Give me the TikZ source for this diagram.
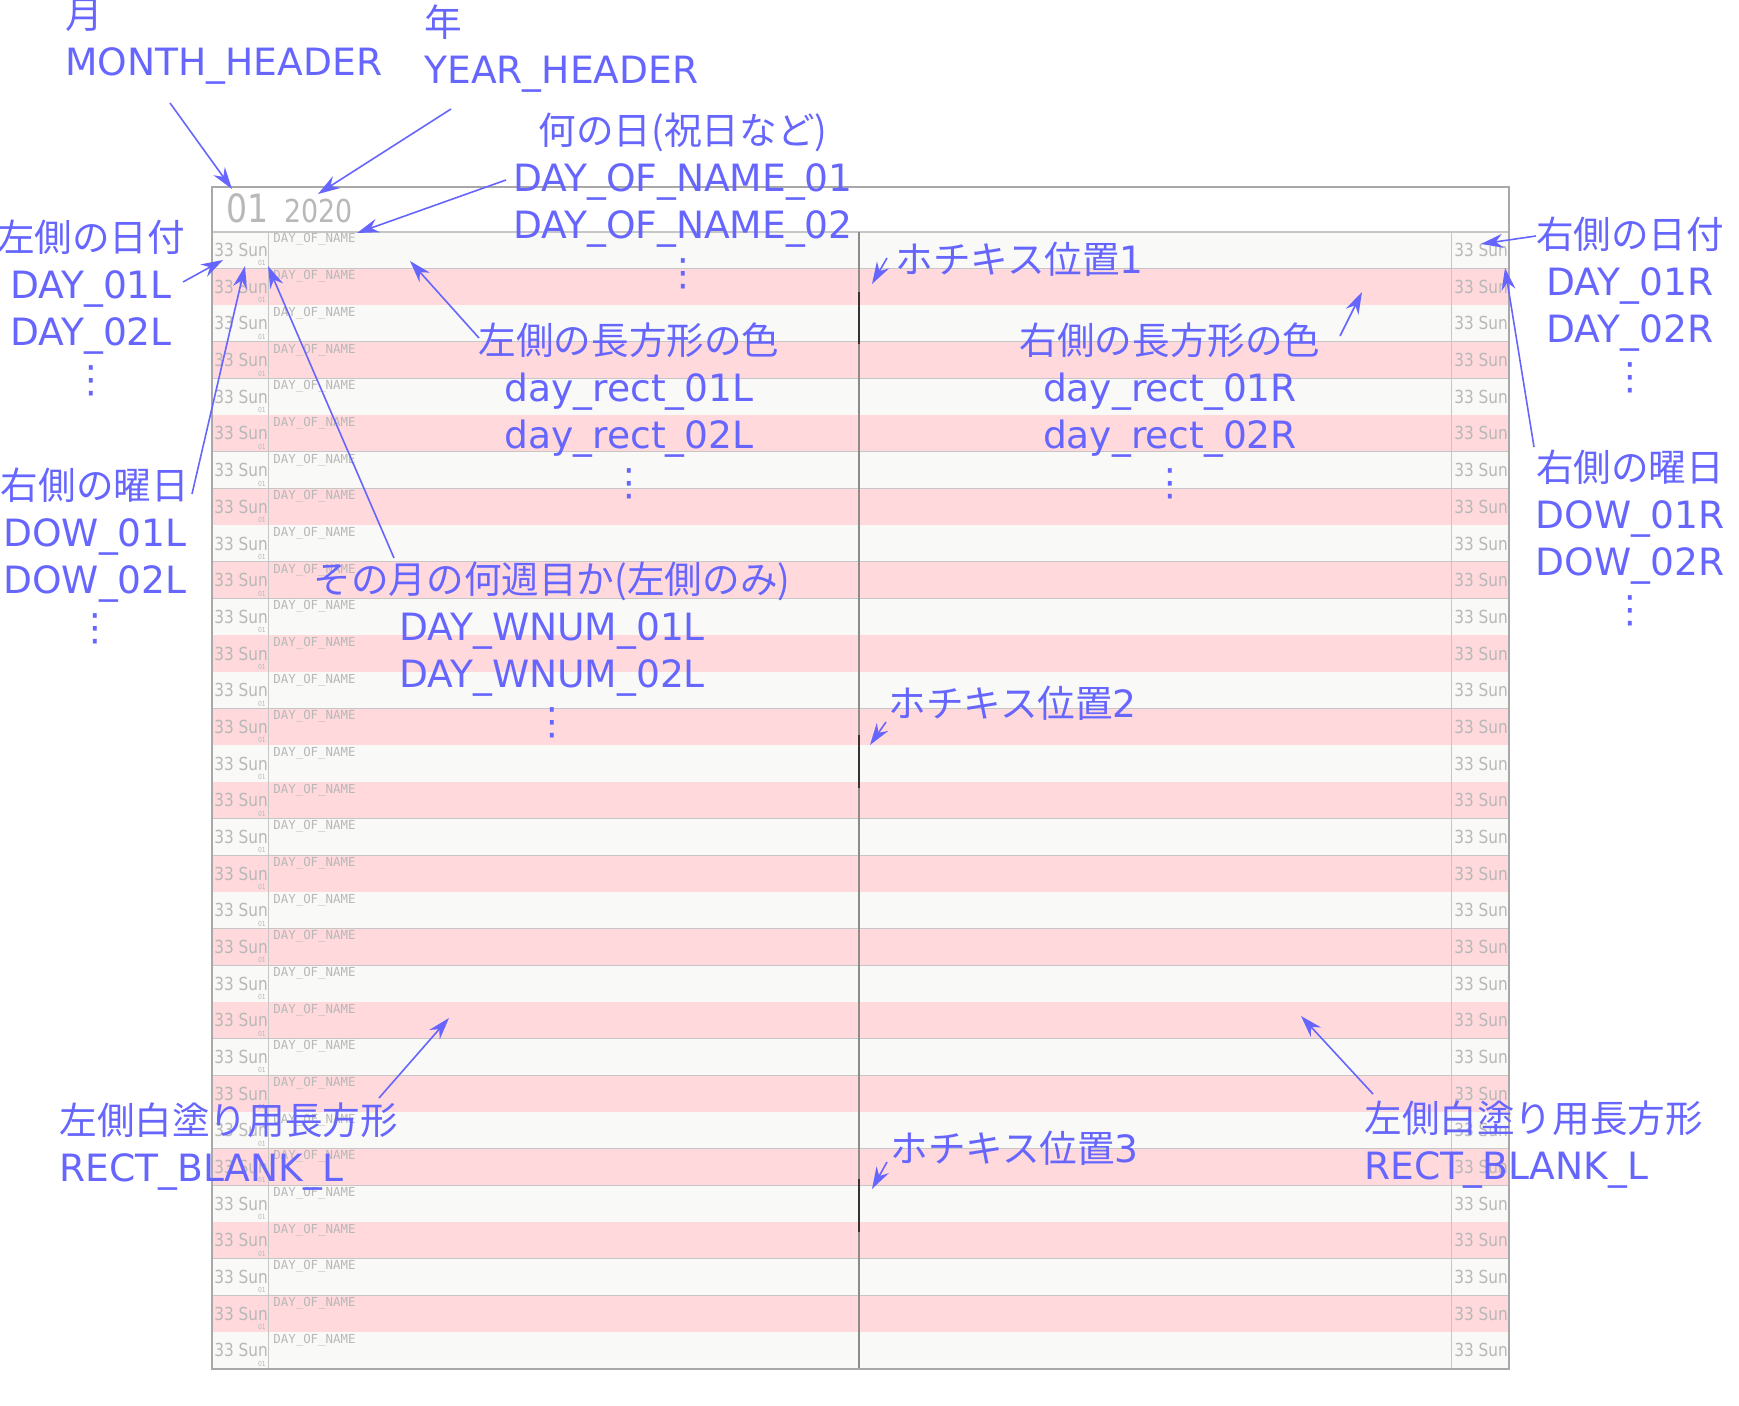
\documentclass[tikz,border=0pt]{standalone}
\usepackage{fontspec}
\setmainfont{DejaVu Sans}
\newfontfamily\jpfont{Noto Sans CJK JP}
\newfontfamily\cellfont[FakeStretch=0.85]{DejaVu Sans}
\newfontfamily\namefont{DejaVu Sans Mono}
\usetikzlibrary{arrows.meta}
\definecolor{notecolor}{HTML}{6666FF}
\definecolor{rowpink}{HTML}{FFD9DC}
\definecolor{rowwhite}{HTML}{F9F9F7}
\definecolor{gridgray}{HTML}{C6C6C6}
\definecolor{framegray}{HTML}{A8A8A8}
\definecolor{cellgray}{HTML}{B8B8B8}

\begin{document}
\begin{tikzpicture}[x=0.5pt, y=-0.5pt,
  notetext/.style={text=notecolor, inner sep=0pt, align=center,
    font=\fontsize{18.8}{23.5}\selectfont},
  callout/.style={-{Stealth[length=11pt, width=7pt]}, draw=notecolor, line width=0.8pt},
  celltext/.style={text=cellgray, inner sep=0pt, font=\cellfont\fontsize{9}{9}\selectfont},
  weektext/.style={text=cellgray, inner sep=0pt, font=\cellfont\fontsize{3.5}{4}\selectfont},
  nametext/.style={text=cellgray, inner sep=0pt, font=\namefont\fontsize{6.2}{7}\selectfont},
  gridline/.style={draw=gridgray, line width=0.6pt},
  stapleline/.style={draw=black!80, line width=0.8pt}
]
\useasboundingbox (0,0) rectangle (1739,1406);
\fill[white] (212,187) rectangle (1509,232);
\foreach \i in {1,...,31}{
  \pgfmathsetmacro\rowtop{232+(\i-1)*36.677}
  \pgfmathsetmacro\rowbot{\rowtop+36.677}
  \pgfmathtruncatemacro\rowodd{mod(\i,2)}
  \ifnum\rowodd=1 \def\rowfill{rowwhite}\else\def\rowfill{rowpink}\fi
  \fill[\rowfill] (212,\rowtop) rectangle (1509,\rowbot);
  \node[celltext, anchor=base west] (dayL\i) at (214,\rowtop+24.6) {33 Sun};
  \node[weektext, anchor=base east] (wnumL\i) at (266,\rowtop+34) {01};
  \node[nametext, anchor=base west] (nameL\i) at (273,\rowtop+11) {DAY\_OF\_NAME};
  \node[celltext, anchor=base west] (dayR\i) at (1454,\rowtop+24.6) {33 Sun};
  \draw[gridline] (212,\rowbot) -- (1509,\rowbot);
}
\draw[gridline] (212,232) -- (1509,232);
\draw[gridline] (268.5,232) -- (268.5,1369);
\draw[gridline] (1451.5,232) -- (1451.5,1369);
\draw[draw=black!45, line width=0.6pt] (859,232) -- (859,1369);
\draw[draw=framegray, line width=0.8pt] (212,187) rectangle (1509,1369);
\draw[stapleline] (859,292) -- (859,344);
\draw[stapleline] (859,735) -- (859,788);
\draw[stapleline] (859,1179) -- (859,1232);
\node[celltext, font=\cellfont\fontsize{19.5}{20}\selectfont, anchor=base west] (monthhead) at (226,223) {01};
\node[celltext, font=\cellfont\fontsize{15.8}{16}\selectfont, anchor=base west] (yearhead) at (284,223) {2020};

\node[notetext, align=left, anchor=west] (monthnote) at (65,42) {{\jpfont 月}\\MONTH\_HEADER};
\node[notetext, align=left, anchor=west] (yearnote) at (424,49) {{\jpfont 年}\\YEAR\_HEADER};
\node[notetext] (holnote) at (683,201) {{\jpfont 何の日(祝日など)}\\DAY\_OF\_NAME\_01\\DAY\_OF\_NAME\_02\\⋮};
\node[notetext] (dayLnote) at (91,308) {{\jpfont 左側の日付}\\DAY\_01L\\DAY\_02L\\⋮};
\node[notetext] (dowLnote) at (95,556) {{\jpfont 右側の曜日}\\DOW\_01L\\DOW\_02L\\⋮};
\node[notetext] (wnumnote) at (552,650) {{\jpfont その月の何週目か(左側のみ)}\\DAY\_WNUM\_01L\\DAY\_WNUM\_02L\\⋮};
\node[notetext] (rectLnote) at (629,411) {{\jpfont 左側の長方形の色}\\day\_rect\_01L\\day\_rect\_02L\\⋮};
\node[notetext] (rectRnote) at (1170,411) {{\jpfont 右側の長方形の色}\\day\_rect\_01R\\day\_rect\_02R\\⋮};
\node[notetext] (dayRnote) at (1630,305) {{\jpfont 右側の日付}\\DAY\_01R\\DAY\_02R\\⋮};
\node[notetext] (dowRnote) at (1630,538) {{\jpfont 右側の曜日}\\DOW\_01R\\DOW\_02R\\⋮};
\node[notetext, anchor=west] (stapleAnote) at (895,259) {{\jpfont ホチキス位置}1};
\node[notetext, anchor=west] (stapleBnote) at (888,703) {{\jpfont ホチキス位置}2};
\node[notetext, anchor=west] (stapleCnote) at (890,1148) {{\jpfont ホチキス位置}3};
\node[notetext, align=left, anchor=west] (blankLnote) at (59,1147) {{\jpfont 左側白塗り用長方形}\\RECT\_BLANK\_L};
\node[notetext, align=left, anchor=west] (blankRnote) at (1364,1145) {{\jpfont 左側白塗り用長方形}\\RECT\_BLANK\_L};

\coordinate (monthtail) at (170,103);
\coordinate (monthtip) at (232,189);
\coordinate (yeartail) at (451,109);
\coordinate (yeartip) at (318,194);
\coordinate (holtail) at (506,180);
\coordinate (holtip) at (357,233);
\coordinate (dayLtail) at (183,282);
\coordinate (dayLtip) at (223,260);
\coordinate (dowLtail) at (192,494);
\coordinate (dowLtip) at (245,266);
\coordinate (wnumtail) at (394,558);
\coordinate (wnumtip) at (268,266);
\coordinate (rectLtail) at (479,338);
\coordinate (rectLtip) at (410,261);
\coordinate (rectRtail) at (1340,336);
\coordinate (rectRtip) at (1362,292);
\coordinate (dayRtail) at (1536,236);
\coordinate (dayRtip) at (1481,244);
\coordinate (dowRtail) at (1534,447);
\coordinate (dowRtip) at (1505,268);
\coordinate (stapleAtail) at (887,258);
\coordinate (stapleAtip) at (872,284);
\coordinate (stapleBtail) at (886,722);
\coordinate (stapleBtip) at (870,745);
\coordinate (stapleCtail) at (887,1162);
\coordinate (stapleCtip) at (872,1189);
\coordinate (blankLtail) at (379,1098);
\coordinate (blankLtip) at (449,1018);
\coordinate (blankRtail) at (1373,1094);
\coordinate (blankRtip) at (1301,1016);
\draw[callout] (monthtail) -- (monthtip);
\draw[callout] (yeartail) -- (yeartip);
\draw[callout] (holtail) -- (holtip);
\draw[callout] (dayLtail) -- (dayLtip);
\draw[callout] (dowLtail) -- (dowLtip);
\draw[callout] (wnumtail) -- (wnumtip);
\draw[callout] (rectLtail) -- (rectLtip);
\draw[callout] (rectRtail) -- (rectRtip);
\draw[callout] (dayRtail) -- (dayRtip);
\draw[callout] (dowRtail) -- (dowRtip);
\draw[callout] (stapleAtail) -- (stapleAtip);
\draw[callout] (stapleBtail) -- (stapleBtip);
\draw[callout] (stapleCtail) -- (stapleCtip);
\draw[callout] (blankLtail) -- (blankLtip);
\draw[callout] (blankRtail) -- (blankRtip);
\end{tikzpicture}
\end{document}
